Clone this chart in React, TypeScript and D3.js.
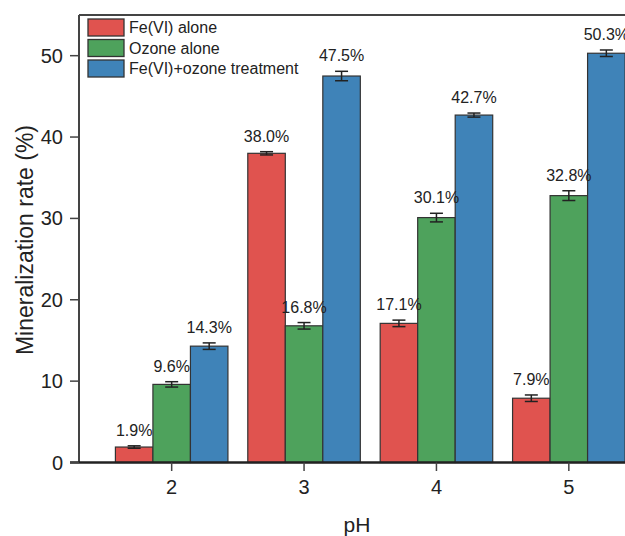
import React from "react";
import * as d3 from "d3";

// pH values on the x axis
const phLevels = [2, 3, 4, 5];
const seriesNames = ["Fe(VI) alone", "Ozone alone", "Fe(VI)+ozone treatment"];
// Mineralization rate (%) per series, per pH
const feAlone = [1.9, 38.0, 17.1, 7.9];
const ozoneAlone = [9.6, 16.8, 30.1, 32.8];
const combined = [14.3, 47.5, 42.7, 50.3];
// Standard deviations
const feAloneErr = [0.15, 0.2, 0.4, 0.4];
const ozoneAloneErr = [0.33, 0.4, 0.53, 0.6];
const combinedErr = [0.4, 0.58, 0.25, 0.4];
const yTicks = [0, 10, 20, 30, 40, 50];

const colors = ["#E0534F", "#4EA25C", "#3F83B8"];
const values = [feAlone, ozoneAlone, combined];
const errors = [feAloneErr, ozoneAloneErr, combinedErr];

const W = 625;
const H = 536;
const left = 79;
const top = 15;
const bottom = 462.5;
const font = "'Liberation Sans', Arial, Helvetica, sans-serif";
const ink = "#222";

export default function App() {
  const x = d3.scaleLinear().domain([1.3, 5.7]).range([left, 661.5]);
  const y = d3.scaleLinear().domain([0, 55]).range([bottom, top]);
  const groupWidth = 0.85;
  const barW = x(groupWidth / 3) - x(0);

  return (
    <svg
      width={W}
      height={H}
      style={{ position: "absolute", left: 0, top: 0, background: "#fff" }}
      fontFamily={font}
    >
      <defs>
        <clipPath id="plotClip">
          <rect x={0} y={0} width={W} height={H} />
        </clipPath>
      </defs>

      {/* bars */}
      {values.map((vals, si) =>
        phLevels.map((ph, i) => {
          const cx = x(ph) + (si - 1) * barW;
          const v = vals[i];
          return (
            <rect
              key={`b${si}-${i}`}
              x={cx - barW / 2}
              y={y(v)}
              width={barW}
              height={y(0) - y(v)}
              fill={colors[si]}
              stroke="#333"
              strokeWidth={1.2}
            />
          );
        })
      )}

      {/* error bars and value labels */}
      {values.map((vals, si) =>
        phLevels.map((ph, i) => {
          const cx = x(ph) + (si - 1) * barW;
          const v = vals[i];
          const e = errors[si][i];
          const cap = 6.5;
          return (
            <g key={`e${si}-${i}`} stroke={ink} strokeWidth={1.5}>
              <line x1={cx} x2={cx} y1={y(v + e)} y2={y(v - e)} />
              <line x1={cx - cap} x2={cx + cap} y1={y(v + e)} y2={y(v + e)} />
              <line x1={cx - cap} x2={cx + cap} y1={y(v - e)} y2={y(v - e)} />
              <text
                x={cx}
                y={y(v + e) - 10}
                textAnchor="middle"
                fontSize={16}
                fill={ink}
                stroke="none"
              >
                {v.toFixed(1)}%
              </text>
            </g>
          );
        })
      )}

      {/* frame: top border and left axis */}
      <line x1={left} x2={W} y1={top} y2={top} stroke="#444" strokeWidth={2} />
      <line x1={left} x2={left} y1={top} y2={bottom} stroke="#444" strokeWidth={2} />
      <line x1={70} x2={W} y1={bottom} y2={bottom} stroke={ink} strokeWidth={2.5} />

      {/* y ticks */}
      {yTicks.map((t) => (
        <g key={`yt${t}`}>
          <line x1={70} x2={left} y1={y(t)} y2={y(t)} stroke="#444" strokeWidth={1.5} />
          <text
            x={63}
            y={y(t)}
            dy="0.35em"
            textAnchor="end"
            fontSize={20}
            fill={ink}
          >
            {t}
          </text>
        </g>
      ))}

      {/* x ticks */}
      {phLevels.map((ph) => (
        <g key={`xt${ph}`}>
          <line x1={x(ph)} x2={x(ph)} y1={bottom} y2={bottom + 8.5} stroke="#444" strokeWidth={1.5} />
          <text x={x(ph)} y={494} textAnchor="middle" fontSize={20} fill={ink}>
            {ph}
          </text>
        </g>
      ))}

      {/* axis titles */}
      <text x={357} y={532} textAnchor="middle" fontSize={21} fill={ink}>
        pH
      </text>
      <text
        transform={`translate(33,240) rotate(-90)`}
        textAnchor="middle"
        fontSize={23}
        fill={ink}
      >
        Mineralization rate (%)
      </text>

      {/* legend */}
      {seriesNames.map((name, si) => (
        <g key={`lg${si}`} transform={`translate(88,${19 + si * 20.5})`}>
          <rect width={36} height={17} fill={colors[si]} stroke="#333" strokeWidth={1.3} />
          <text x={41} y={14} fontSize={16} fill={ink}>
            {name}
          </text>
        </g>
      ))}
    </svg>
  );
}
